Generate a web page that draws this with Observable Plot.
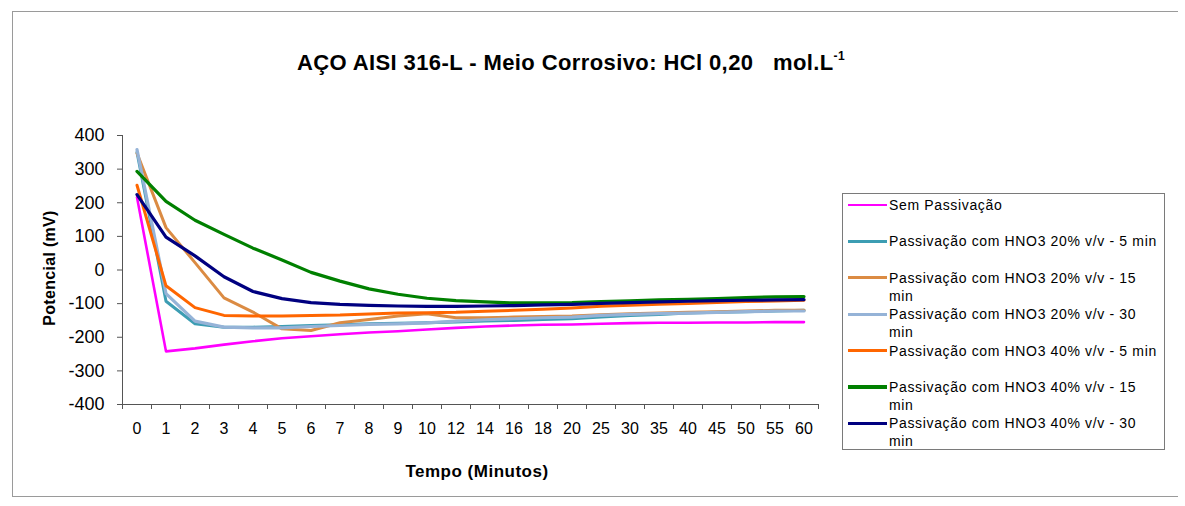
<!DOCTYPE html>
<html>
<head>
<meta charset="utf-8">
<script src="https://cdn.jsdelivr.net/npm/d3@7"></script>
<script src="https://cdn.jsdelivr.net/npm/@observablehq/plot@0.6"></script>
<style>
  html, body { margin: 0; padding: 0; background: #fff; }
  body { width: 1185px; height: 506px; overflow: hidden; font-family: "Liberation Sans", Arial, sans-serif; }
  #wrap { position: relative; width: 1185px; height: 506px; background: #fff; }
  #frame { position: absolute; left: 12px; top: 11px; width: 1166px; height: 486px; border: 1px solid #9a9a9a; box-sizing: border-box; border-right: none; }
  #chart { position: absolute; left: 0; top: 0; }
  #title { position: absolute; left: 0; width: 1142px; top: 52px; text-align: center; font-weight: bold; font-size: 22px; letter-spacing: 0.4px; line-height: 22px; color: #000; white-space: pre; }
  #title sup { font-size: 12px; vertical-align: 10px; line-height: 0; }
  #ytitle { position: absolute; left: 50px; top: 268px; transform: translate(-50%, -50%) rotate(-90deg); font-weight: bold; font-size: 16px; letter-spacing: 0.3px; white-space: nowrap; color: #000; }
  #xtitle { position: absolute; left: 477px; top: 472px; transform: translate(-50%, -50%); font-weight: bold; font-size: 17px; letter-spacing: 0.5px; white-space: nowrap; color: #000; }
  #legend { position: absolute; left: 842px; top: 193px; width: 323px; height: 257px; border: 1px solid #7a7a7a; box-sizing: border-box; }
  .entry { position: absolute; left: 0; width: 320px; }
  .swatch { position: absolute; left: 5px; top: 9px; width: 39px; }
  .ltext { position: absolute; left: 46px; top: 0; width: 272px; font-size: 14px; line-height: 18px; letter-spacing: 0.65px; color: #000; }
</style>
</head>
<body>
<div id="wrap">
  <div id="frame"></div>
  <div id="chart"></div>
  <div id="title"></div>
  <div id="ytitle"></div>
  <div id="xtitle"></div>
  <div id="legend"></div>
</div>
<script>
// ---- Data ----
const times = ["0","1","2","3","4","5","6","7","8","9","10","12","14","16","18","20","25","30","35","40","45","50","55","60"];

const seriesNames = [
  "Sem Passivação",
  "Passivação com HNO3 20% v/v - 5 min",
  "Passivação com HNO3 20% v/v - 15 min",
  "Passivação com HNO3 20% v/v - 30 min",
  "Passivação com HNO3 40% v/v - 5 min",
  "Passivação com HNO3 40% v/v - 15 min",
  "Passivação com HNO3 40% v/v - 30 min"
];
const seriesColors = ["#FF00FF", "#3C9DB3", "#DB8B43", "#95B3D7", "#FF6600", "#008000", "#000080"];
const seriesWidths = [2.6, 3, 3, 3.2, 3, 3.2, 3.2];

const semPassivacao = [216,-242,-233,-222,-212,-203,-197,-191,-186,-182,-177,-172,-168,-165,-163,-162,-160,-158,-157,-157,-156,-156,-155,-155];
const hno3_20_5  = [350,-93,-160,-170,-170,-168,-165,-163,-160,-158,-157,-155,-152,-150,-147,-145,-140,-135,-132,-128,-126,-124,-122,-120];
const hno3_20_15 = [347,126,22,-83,-125,-175,-180,-157,-147,-137,-130,-142,-142,-140,-138,-137,-133,-130,-128,-126,-124,-122,-120,-120];
const hno3_20_30 = [358,-70,-152,-170,-172,-172,-168,-165,-162,-160,-157,-152,-148,-145,-142,-140,-135,-132,-130,-128,-126,-124,-122,-122];
const hno3_40_5  = [252,-47,-112,-135,-137,-137,-135,-134,-131,-128,-127,-126,-123,-120,-117,-113,-108,-105,-102,-100,-97,-94,-92,-90];
const hno3_40_15 = [293,204,148,106,65,30,-7,-33,-56,-72,-84,-91,-95,-98,-98,-97,-94,-92,-89,-87,-85,-82,-80,-79];
const hno3_40_30 = [224,98,42,-20,-64,-85,-97,-102,-105,-107,-108,-108,-107,-106,-104,-102,-99,-97,-95,-93,-91,-90,-89,-88];

const seriesValues = [semPassivacao, hno3_20_5, hno3_20_15, hno3_20_30, hno3_40_5, hno3_40_15, hno3_40_30];
const yTicks = [-400,-300,-200,-100,0,100,200,300,400];

// ---- Chart ----
const lineMarks = seriesValues.map((vals, s) =>
  Plot.line(vals.map((v, i) => ({i, v})), {
    x: "i", y: "v", stroke: seriesColors[s], strokeWidth: seriesWidths[s],
    strokeLinejoin: "round", strokeLinecap: "round"
  })
);

const chart = Plot.plot({
  width: 1185,
  height: 506,
  marginLeft: 122,
  marginRight: 367,
  marginTop: 135,
  marginBottom: 102,
  style: { background: "transparent", fontFamily: "'Liberation Sans', Arial, sans-serif", color: "#000" },
  x: { domain: [-0.5, times.length - 0.5] },
  y: { domain: [-400, 400] },
  marks: [
    Plot.axisY({ ticks: yTicks, tickSize: 5, tickPadding: 13, fontSize: 18, label: null, stroke: "#555", tickFormat: d => String(d) }),
    Plot.axisX({ ticks: d3.range(-0.5, times.length, 1), tickSize: 5, tickFormat: () => "", label: null, stroke: "#555" }),
    Plot.axisX({ ticks: d3.range(0, times.length), tickSize: 0, tickPadding: 18, fontSize: 16, tickFormat: i => times[i], label: null }),
    Plot.ruleX([-0.5], { stroke: "#555", strokeWidth: 1 }),
    Plot.ruleY([-400], { stroke: "#555", strokeWidth: 1 }),
    ...lineMarks
  ]
});
document.getElementById("chart").appendChild(chart);

// ---- Text ----
document.getElementById("title").innerHTML = "AÇO AISI 316-L - Meio Corrosivo: HCl 0,20&nbsp;&nbsp; mol.L<sup>-1</sup>";
document.getElementById("ytitle").textContent = "Potencial (mV)";
document.getElementById("xtitle").textContent = "Tempo (Minutos)";

// ---- Legend ----
const legend = document.getElementById("legend");
const legendTop = 193;
seriesNames.forEach((name, s) => {
  const cy = 205 + s * 36.4;
  const e = document.createElement("div");
  e.className = "entry";
  e.style.top = (cy - 9 - legendTop - 1) + "px";
  const sw = document.createElement("div");
  sw.className = "swatch";
  sw.style.height = seriesWidths[s] + "px";
  sw.style.marginTop = (-seriesWidths[s] / 2) + "px";
  sw.style.background = seriesColors[s];
  const t = document.createElement("div");
  t.className = "ltext";
  t.textContent = name;
  e.appendChild(sw);
  e.appendChild(t);
  legend.appendChild(e);
});
</script>
</body>
</html>
